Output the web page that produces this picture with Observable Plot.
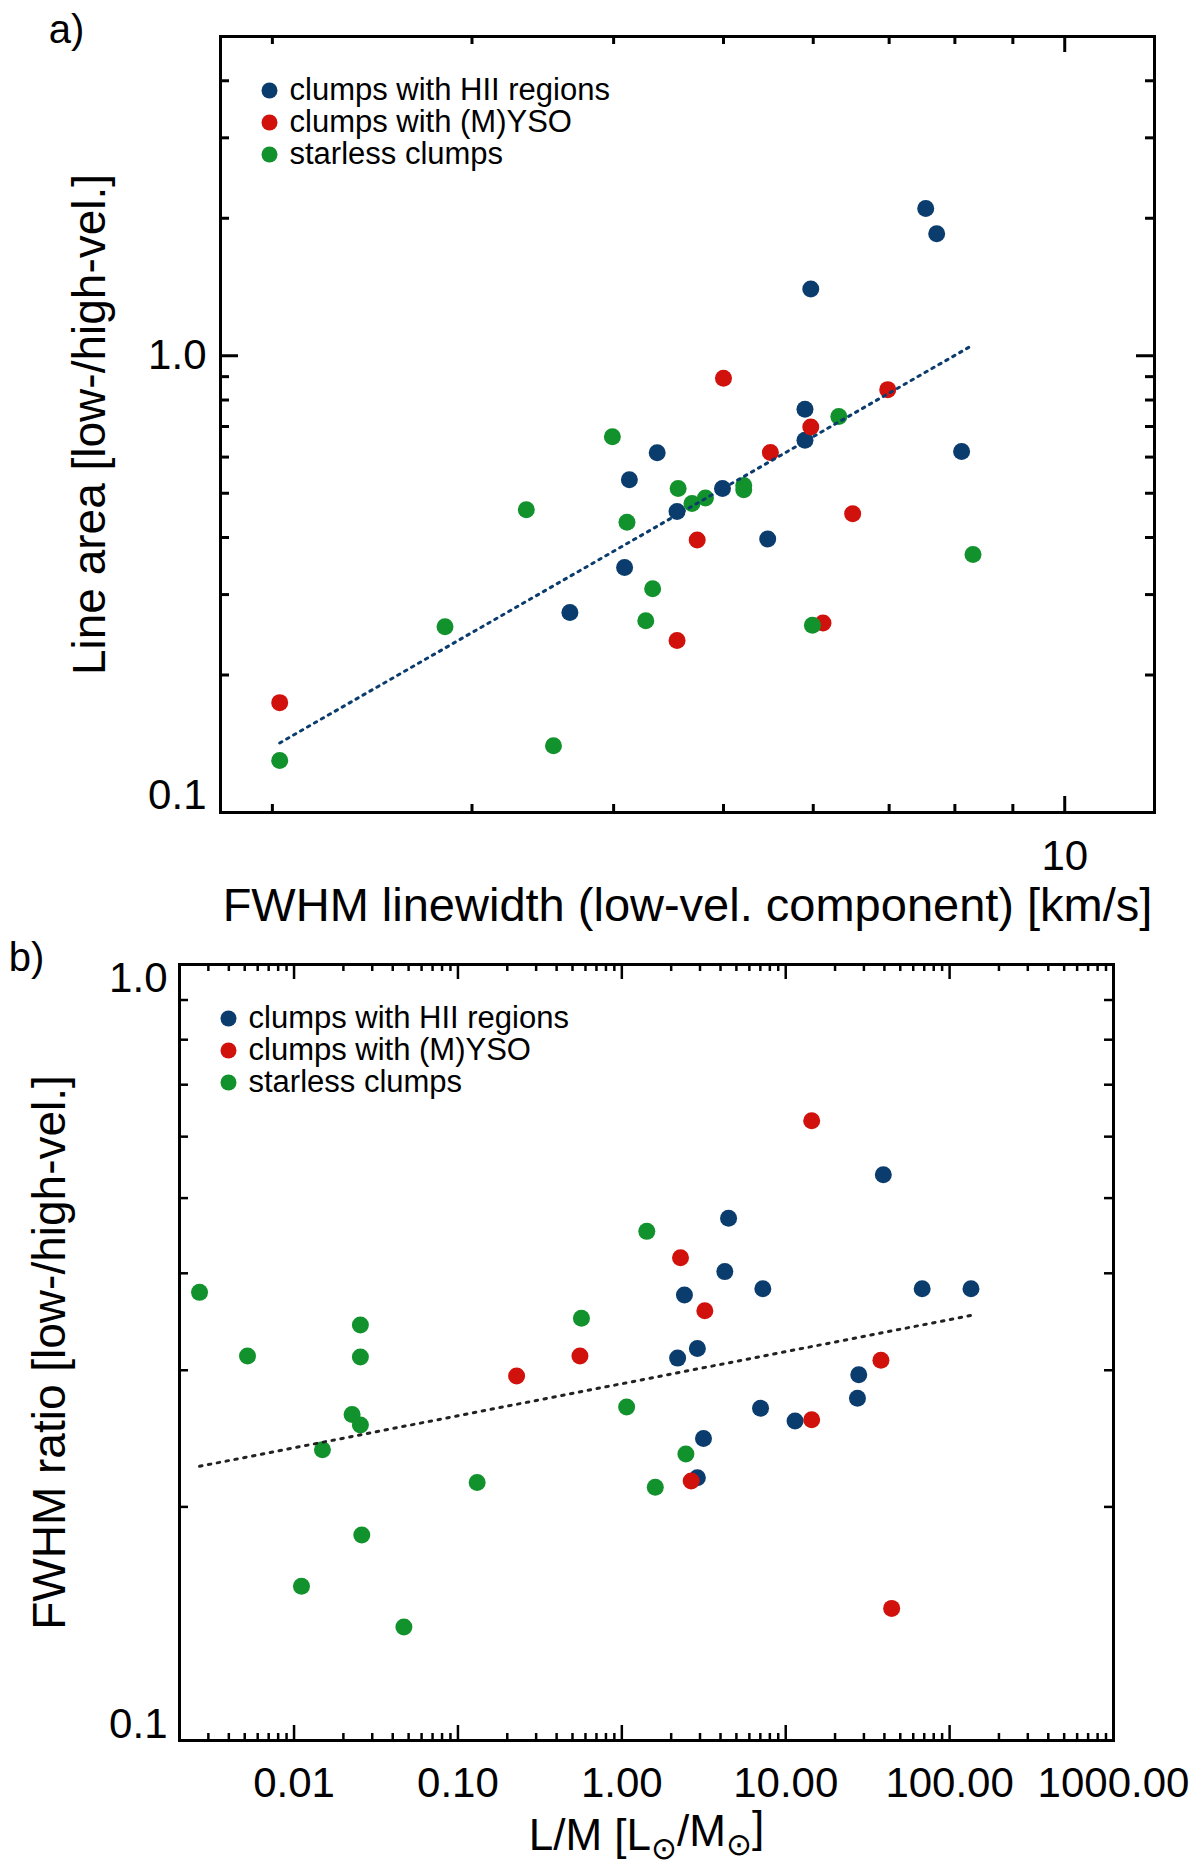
<!DOCTYPE html>
<html>
<head>
<meta charset="utf-8">
<script src="https://cdn.jsdelivr.net/npm/d3@7"></script>
<script src="https://cdn.jsdelivr.net/npm/@observablehq/plot@0.6"></script>
<style>
  body { margin: 0; background: white; }
  #chart svg { display: block; }
</style>
</head>
<body>
<div id="chart"></div>
<script>
// categories and colours
const types = ["clumps with HII regions", "clumps with (M)YSO", "starless clumps"];
const colors = ["#0b3c6e", "#d0110c", "#12922c"];

// panel a: FWHM linewidth (low-vel.) vs line area ratio
const aHiiX = [7.54, 7.71, 5.97, 5.90, 5.90, 8.11, 4.37, 4.13, 4.99, 4.55, 5.47, 4.09, 3.66];
const aHiiY = [2.10, 1.85, 1.40, 0.764, 0.653, 0.617, 0.613, 0.535, 0.512, 0.456, 0.397, 0.344, 0.274];
const aYsoX = [5.00, 6.98, 5.97, 5.50, 6.50, 4.74, 6.12, 4.55, 2.03];
const aYsoY = [0.893, 0.843, 0.698, 0.614, 0.451, 0.395, 0.260, 0.238, 0.174];
const aStarlessX = [6.32, 3.99, 4.56, 5.21, 5.21, 4.69, 4.82, 3.35, 4.11, 8.30, 4.33, 4.27, 5.99, 2.84, 3.54, 2.03];
const aStarlessY = [0.736, 0.665, 0.512, 0.520, 0.509, 0.475, 0.488, 0.460, 0.432, 0.367, 0.309, 0.263, 0.257, 0.255, 0.140, 0.130];
const aFitX = [2.03, 8.30];
const aFitY = [0.142, 1.056];

// panel b: L/M vs FWHM ratio
const bHiiX = [39.4, 4.48, 4.25, 7.25, 68.0, 135, 2.41, 2.89, 2.19, 27.9, 27.4, 7.02, 11.4, 3.15, 2.89];
const bHiiY = [0.536, 0.471, 0.402, 0.382, 0.382, 0.382, 0.375, 0.320, 0.311, 0.296, 0.276, 0.268, 0.258, 0.245, 0.218];
const bYsoX = [14.4, 2.28, 3.21, 0.555, 38.1, 0.228, 14.4, 2.65, 44.3];
const bYsoY = [0.629, 0.419, 0.358, 0.313, 0.309, 0.295, 0.259, 0.216, 0.148];
const bStarlessX = [1.42, 0.00265, 0.0254, 0.567, 0.0052, 0.0254, 1.07, 0.0226, 0.0254, 0.0149, 2.46, 0.131, 1.60, 0.0259, 0.0111, 0.0468];
const bStarlessY = [0.453, 0.378, 0.343, 0.350, 0.313, 0.312, 0.269, 0.263, 0.255, 0.237, 0.234, 0.215, 0.212, 0.184, 0.158, 0.140];
const bFitX = [0.00265, 135];
const bFitY = [0.2256, 0.353];

// tick values
const aXMinor = [2, 3, 4, 5, 6, 7, 8, 9];
const aXMajor = [10];
const aYMinor = [0.2, 0.3, 0.4, 0.5, 0.6, 0.7, 0.8, 0.9, 2, 3, 4];
const aYMajor = [0.1, 1];
const bXMajor = [0.01, 0.1, 1, 10, 100, 1000];
const bXMinor = [0.001, 0.01, 0.1, 1, 10, 100]
  .flatMap(d => [2, 3, 4, 5, 6, 7, 8, 9].map(k => +(d * k).toPrecision(3)))
  .filter(d => d >= 0.002 && d < 1000);
const bYMinor = [0.2, 0.3, 0.4, 0.5, 0.6, 0.7, 0.8, 0.9];
const bYMajor = [0.1, 1];

const font = "Liberation Sans, Arial, Helvetica, sans-serif";

function points(xs, ys, type) {
  return xs.map((x, i) => ({x, y: ys[i], type}));
}

function ticks(W, H, xMinor, xMajor, yMinor, yMajor, xLen, yLen, sw) {
  const rx = (v, len) => [
    Plot.ruleX(v, {x: d => d, insetTop: H - len, strokeWidth: sw}),
    Plot.ruleX(v, {x: d => d, insetBottom: H - len, strokeWidth: sw})
  ];
  const ry = (v, len) => [
    Plot.ruleY(v, {y: d => d, insetRight: W - len, strokeWidth: sw}),
    Plot.ruleY(v, {y: d => d, insetLeft: W - len, strokeWidth: sw})
  ];
  return [...rx(xMinor, xLen[0]), ...rx(xMajor, xLen[1]), ...ry(yMinor, yLen[0]), ...ry(yMajor, yLen[1])];
}

function legend() {
  return types.flatMap((t, i) => [
    Plot.dot([t], {frameAnchor: "top-left", dx: 49, dy: 54 + 32 * i, r: 8, fill: d => d}),
    Plot.text([t], {frameAnchor: "top-left", dx: 69, dy: 54 + 32 * i, text: d => d,
      textAnchor: "start", lineAnchor: "middle", fontSize: 31})
  ]);
}

function label(text, opts) {
  return Plot.text([text], {text: d => d, textAnchor: "middle", lineAnchor: "middle", ...opts});
}

function scatter(data) {
  return types.map(t => Plot.dot(data.filter(d => d.type === t),
    {x: "x", y: "y", r: 8.5, fill: "type", stroke: "none"}));
}

// ---------- panel a ----------
const aData = [
  ...points(aHiiX, aHiiY, types[0]),
  ...points(aYsoX, aYsoY, types[1]),
  ...points(aStarlessX, aStarlessY, types[2])
];

const chartA = Plot.plot({
  width: 1200,
  height: 934,
  marginTop: 36,
  marginBottom: 122,
  marginLeft: 220,
  marginRight: 46,
  style: {fontFamily: font, background: "white", color: "black"},
  x: {type: "log", domain: [1.8, 12]},
  y: {type: "log", domain: [0.1, 5]},
  color: {domain: types, range: colors},
  marks: [
    ...scatter(aData),
    Plot.line(aFitX.map((x, i) => ({x, y: aFitY[i]})),
      {x: "x", y: "y", stroke: colors[0], strokeWidth: 3, strokeDasharray: "2.5,5.5"}),
    ...ticks(934, 776, aXMinor, aXMajor, aYMinor, aYMajor, [8, 16], [9, 18], 3),
    Plot.frame({strokeWidth: 3}),
    Plot.axisX(aXMajor, {tickSize: 0, tickPadding: 28, fontSize: 42, label: null, tickFormat: d3.format("d")}),
    Plot.axisY([1], {tickSize: 0, tickPadding: 14, fontSize: 42, label: null, tickFormat: d3.format(".1f")}),
    Plot.axisY([0.1], {tickSize: 0, tickPadding: 14, fontSize: 42, label: null, dy: -17, tickFormat: d3.format(".1f")}),
    label("Line area [low-/high-vel.]", {frameAnchor: "left", dx: -130, rotate: -90, fontSize: 46}),
    label("FWHM linewidth (low-vel. component) [km/s]", {frameAnchor: "bottom", dy: 93, fontSize: 47}),
    label("a)", {frameAnchor: "top-left", dx: -154, dy: -6, fontSize: 40}),
    ...legend()
  ]
});

// ---------- panel b ----------
const bData = [
  ...points(bHiiX, bHiiY, types[0]),
  ...points(bYsoX, bYsoY, types[1]),
  ...points(bStarlessX, bStarlessY, types[2])
];

const xLabelB = "L/M [L⊙/M⊙]";

const chartB = Plot.plot({
  width: 1200,
  height: 934,
  marginTop: 30,
  marginBottom: 128,
  marginLeft: 179,
  marginRight: 87,
  style: {fontFamily: font, background: "white", color: "black"},
  x: {type: "log", domain: [0.002, 1000]},
  y: {type: "log", domain: [0.1, 1]},
  color: {domain: types, range: colors},
  marks: [
    ...scatter(bData),
    Plot.line(bFitX.map((x, i) => ({x, y: bFitY[i]})),
      {x: "x", y: "y", stroke: "#222", strokeWidth: 3, strokeDasharray: "2.5,6.5"}),
    ...ticks(934, 776, bXMinor, bXMajor, bYMinor, bYMajor, [7, 15], [9, 18], 2.5),
    Plot.frame({strokeWidth: 3}),
    Plot.axisX(bXMajor, {tickSize: 0, tickPadding: 27, fontSize: 42, label: null, tickFormat: d3.format(".2f")}),
    Plot.axisY([1], {tickSize: 0, tickPadding: 12, fontSize: 42, label: null, dy: 14, tickFormat: d3.format(".1f")}),
    Plot.axisY([0.1], {tickSize: 0, tickPadding: 12, fontSize: 42, label: null, dy: -16, tickFormat: d3.format(".1f")}),
    label("FWHM ratio [low-/high-vel.]", {frameAnchor: "left", dx: -129, rotate: -90, fontSize: 46}),
    label(xLabelB, {frameAnchor: "bottom", dy: 95, fontSize: 44}),
    label("b)", {frameAnchor: "top-left", dx: -153, dy: -6, fontSize: 40}),
    ...legend()
  ]
});

// subscript the solar symbols in the L/M label
d3.select(chartB).selectAll("text")
  .filter(function() { return this.textContent === xLabelB; })
  .each(function() {
    const t = d3.select(this).text(null);
    t.append("tspan").text("L/M [L");
    t.append("tspan").attr("font-size", "0.7em").attr("dy", "0.3em").text("⊙");
    t.append("tspan").attr("dy", "-0.3em").text("/M");
    t.append("tspan").attr("font-size", "0.7em").attr("dy", "0.3em").text("⊙");
    t.append("tspan").attr("dy", "-0.3em").text("]");
  });

d3.select("#chart").append(() => chartA);
d3.select("#chart").append(() => chartB);
</script>
</body>
</html>
